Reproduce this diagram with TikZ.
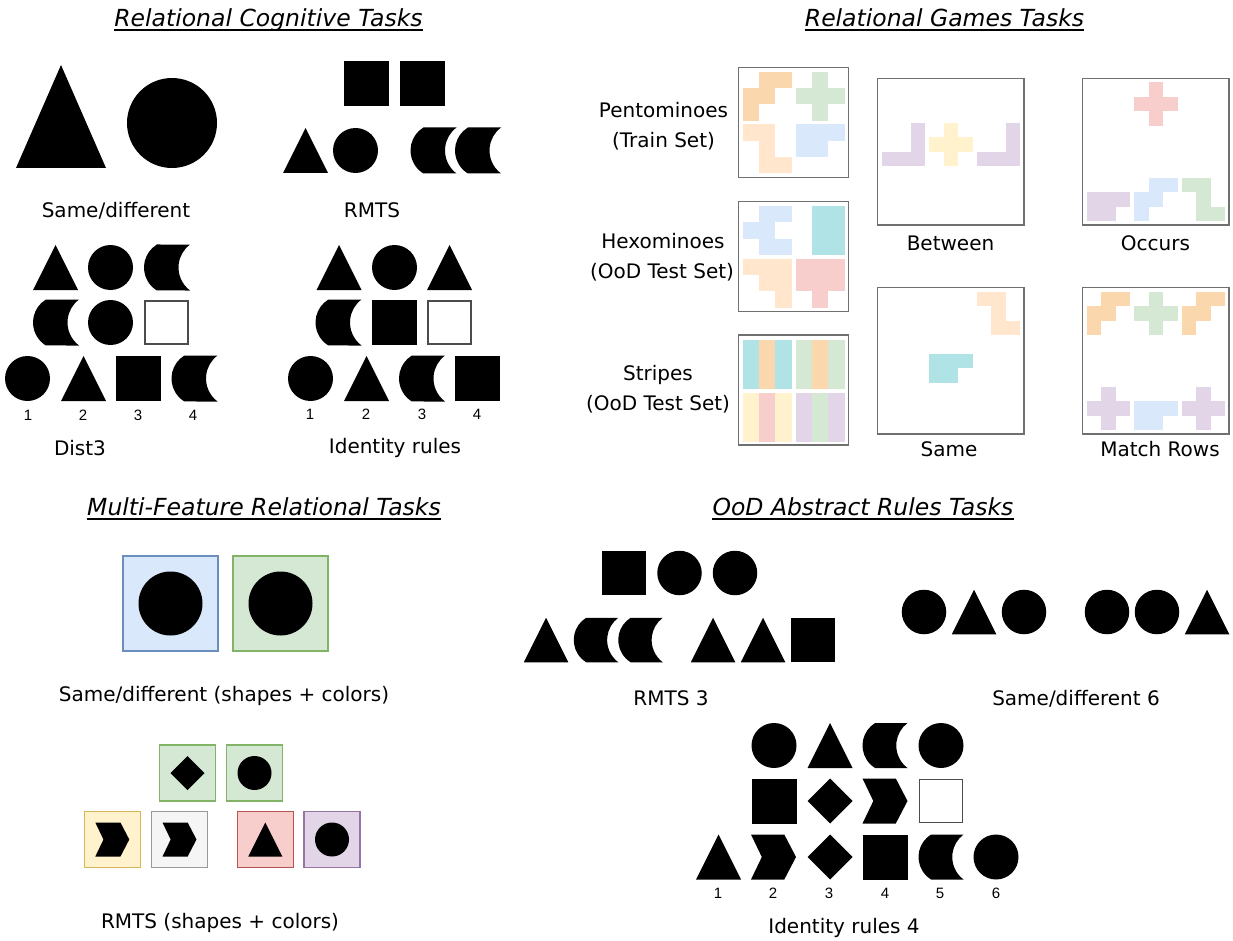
\documentclass[tikz,border=0pt]{standalone}
\usepackage{fontspec}
\setmainfont{DejaVu Sans}
\newfontfamily\numfont{Liberation Sans}
\definecolor{cOrD}{HTML}{FAD7AC}
\definecolor{cOrL}{HTML}{FFE6CC}
\definecolor{cGr}{HTML}{D5E8D4}
\definecolor{cBl}{HTML}{DAE8FC}
\definecolor{cTe}{HTML}{B0E3E6}
\definecolor{cRe}{HTML}{F8CECC}
\definecolor{cYe}{HTML}{FFF2CC}
\definecolor{cPu}{HTML}{E1D5E7}
\definecolor{cGy}{HTML}{F5F5F5}
\definecolor{bGr}{HTML}{82B366}
\definecolor{bBl}{HTML}{6C8EBF}
\definecolor{bYe}{HTML}{D6B656}
\definecolor{bRe}{HTML}{B85450}
\definecolor{bPu}{HTML}{9673A6}
\definecolor{bGy}{HTML}{999999}
\definecolor{frameGray}{HTML}{707070}
\newcommand\shp[4]{\pic[scale=#4] at (#2,#3) {#1};}
\newcommand\pcs[5]{\foreach \rr/\cc in {#5}{\fill[#1] ({#2+\cc*#4},{#3+\rr*#4}) rectangle ++(#4,#4);}}
\def\cellS{16.33}
\def\cellB{14.56}
\newcommand\strp[4]{\fill[#1] ({#2+#4*\cellS},#3) rectangle ++(\cellS,49);}
\begin{document}
\begin{tikzpicture}[x=1pt,y=-1pt,
  lab/.style={font=\fontsize{20}{24}\selectfont, inner sep=0pt, anchor=base},
  ttl/.style={font=\fontsize{23.5}{28}\selectfont\itshape, inner sep=0pt, anchor=base},
  num/.style={font=\numfont\fontsize{15}{17}\selectfont, inner sep=0pt, anchor=base},
  frm/.style={draw=frameGray, line width=1.3pt, fill=white},
  ul/.style={line width=1.3pt},
  tri/.pic={\fill (-0.5,0.5) -- (0.5,0.5) -- (0,-0.5) -- cycle;},
  circ/.pic={\fill (0,0) circle[radius=0.5];},
  sq/.pic={\fill (-0.5,-0.5) rectangle (0.5,0.5);},
  esq/.pic={\draw[draw=black!70, line width=1.3pt, fill=white] (-0.48,-0.48) rectangle (0.48,0.48);},
  dia/.pic={\fill (0,-0.5) -- (0.5,0) -- (0,0.5) -- (-0.5,0) -- cycle;},
  chev/.pic={\fill (-0.5,-0.5) -- (0.24,-0.5) -- (0.5,0) -- (0.24,0.5) -- (-0.5,0.5) -- (-0.26,0) -- cycle;},
  cres/.pic={\fill (-0.22,-0.5) arc[start angle=238.5, end angle=121.5, radius=0.5864] -- (0.5,0.5) arc[start angle=126.87, end angle=233.13, radius=0.625] -- cycle;}
]
\useasboundingbox (0,0) rectangle (1233,941);

% ---------- Titles ----------
\node[ttl] (t1) at (268.5,26.5) {Relational Cognitive Tasks};
\node[ttl] (t2) at (944.5,26.5) {Relational Games Tasks};
\node[ttl] (t3) at (264,515.5) {Multi-Feature Relational Tasks};
\node[ttl] (t4) at (863,515.5) {OoD Abstract Rules Tasks};
\foreach \t in {t1,t2,t3,t4}{\draw[ul] ([yshift=-3.5pt]\t.base west) -- ([yshift=-3.5pt]\t.base east);}

% ---------- Relational cognitive: same/different ----------
\fill (16,168) -- (106,168) -- (61,65) -- cycle;
\fill (172,123) circle[radius=45];
\node[lab] (l1) at (116,218) {Same/different};

% RMTS
\shp{sq}{366.5}{84}{45}
\shp{sq}{422}{84}{45}
\shp{tri}{305.5}{150.5}{45}
\shp{circ}{355.5}{150.5}{45}
\shp{cres}{433.5}{150.5}{46}
\shp{cres}{478}{150.5}{46}
\node[lab] (l2) at (372,218) {RMTS};

% Dist3
\shp{tri}{55.5}{267.5}{45}
\shp{circ}{110.5}{267.5}{45}
\shp{cres}{167}{267.5}{46}
\shp{cres}{56}{322.5}{46}
\shp{circ}{110.5}{322.5}{45}
\shp{esq}{166.5}{322.5}{45}
\shp{circ}{27.5}{378.5}{45}
\shp{tri}{83.5}{378.5}{45}
\shp{sq}{138.5}{378.5}{45}
\shp{cres}{194.5}{378.5}{46}
\node[num] (d1) at (28,420) {1};
\node[num] (d2) at (83,420) {2};
\node[num] (d3) at (138,420) {3};
\node[num] (d4) at (193,420) {4};
\node[lab] (l3) at (80,455) {Dist3};

% Identity rules
\shp{tri}{339}{267.5}{45}
\shp{circ}{394.5}{267.5}{45}
\shp{tri}{449.5}{267.5}{45}
\shp{cres}{338.5}{322.5}{46}
\shp{sq}{394.5}{322.5}{45}
\shp{esq}{449.5}{322.5}{45}
\shp{circ}{310.5}{378.5}{45}
\shp{tri}{366.5}{378.5}{45}
\shp{cres}{422}{378.5}{46}
\shp{sq}{477.5}{378.5}{45}
\node[num] (e1) at (310,419) {1};
\node[num] (e2) at (366,419) {2};
\node[num] (e3) at (422,419) {3};
\node[num] (e4) at (477,419) {4};
\node[lab] (l4) at (395,453) {Identity rules};

% ---------- Relational games ----------
\node[lab] (g1) at (663.5,118) {Pentominoes};
\node[lab] (g2) at (663.5,148) {(Train Set)};
\node[lab] (g3) at (663,249) {Hexominoes};
\node[lab] (g4) at (662,278) {(OoD Test Set)};
\node[lab] (g5) at (658,380) {Stripes};
\node[lab] (g6) at (658,410) {(OoD Test Set)};

% small boxes
\draw[frm] (738.3,67.3) rectangle (848.3,177.3);
\draw[frm] (738.3,201.7) rectangle (848.3,311.7);
\draw[frm] (738.3,335) rectangle (848.3,445);
% box 1 pentominoes
\pcs{cOrD}{742.7}{71.7}{\cellS}{0/1,0/2,1/0,1/1,2/0}
\pcs{cGr}{795.7}{71.7}{\cellS}{0/1,1/0,1/1,1/2,2/1}
\pcs{cOrL}{742.7}{124.3}{\cellS}{0/0,0/1,1/1,2/1,2/2}
\pcs{cBl}{795.7}{124.3}{\cellS}{0/0,0/1,0/2,1/0,1/1}
% box 2 hexominoes
\pcs{cBl}{742.7}{206}{\cellS}{0/1,0/2,1/0,1/1,2/1,2/2}
\pcs{cTe}{795.7}{206}{\cellS}{0/1,0/2,1/1,1/2,2/1,2/2}
\pcs{cOrL}{742.7}{258.7}{\cellS}{0/0,0/1,0/2,1/1,1/2,2/2}
\pcs{cRe}{795.7}{258.7}{\cellS}{0/0,0/1,0/2,1/0,1/1,1/2,2/1}
% box 3 stripes
\strp{cTe}{742.7}{340}{0}\strp{cOrD}{742.7}{340}{1}\strp{cTe}{742.7}{340}{2}
\strp{cGr}{795.7}{340}{0}\strp{cOrD}{795.7}{340}{1}\strp{cGr}{795.7}{340}{2}
\strp{cYe}{742.7}{392.7}{0}\strp{cRe}{742.7}{392.7}{1}\strp{cYe}{742.7}{392.7}{2}
\strp{cPu}{795.7}{392.7}{0}\strp{cGr}{795.7}{392.7}{1}\strp{cPu}{795.7}{392.7}{2}

% big boxes
\draw[frm] (877.3,78.3) rectangle (1024,225);
\draw[frm] (1082.3,78.3) rectangle (1229,225);
\draw[frm] (877.3,287.3) rectangle (1024,434);
\draw[frm] (1082.3,287.3) rectangle (1229,434);
% Between
\pcs{cPu}{881.7}{122.7}{\cellB}{0/2,1/2,2/0,2/1,2/2}
\pcs{cYe}{929}{122.7}{\cellB}{0/1,1/0,1/1,1/2,2/1}
\pcs{cPu}{976.7}{122.7}{\cellB}{0/2,1/2,2/0,2/1,2/2}
% Occurs
\pcs{cRe}{1134}{82.3}{\cellB}{0/1,1/0,1/1,1/2,2/1}
\pcs{cPu}{1086.7}{177.7}{\cellB}{1/0,1/1,1/2,2/0,2/1}
\pcs{cBl}{1134}{177.7}{\cellB}{0/1,0/2,1/0,1/1,2/0}
\pcs{cGr}{1181.7}{177.7}{\cellB}{0/0,0/1,1/1,2/1,2/2}
% Same
\pcs{cOrL}{976.7}{291.7}{\cellB}{0/0,0/1,1/1,2/1,2/2}
\pcs{cTe}{929}{353.7}{\cellB}{0/0,0/1,0/2,1/0,1/1}
% Match rows
\pcs{cOrD}{1086.7}{291.7}{\cellB}{0/1,0/2,1/0,1/1,2/0}
\pcs{cGr}{1134}{291.7}{\cellB}{0/1,1/0,1/1,1/2,2/1}
\pcs{cOrD}{1181.7}{291.7}{\cellB}{0/1,0/2,1/0,1/1,2/0}
\pcs{cPu}{1086.7}{386.7}{\cellB}{0/1,1/0,1/1,1/2,2/1}
\pcs{cBl}{1134}{386.7}{\cellB}{1/0,1/1,1/2,2/0,2/1}
\pcs{cPu}{1181.7}{386.7}{\cellB}{0/1,1/0,1/1,1/2,2/1}

\node[lab] (b1) at (950.5,251) {Between};
\node[lab] (b2) at (1155.5,251) {Occurs};
\node[lab] (b3) at (949,456) {Same};
\node[lab] (b4) at (1160,456) {Match Rows};

% ---------- Multi-feature ----------
\draw[fill=cBl, draw=bBl, line width=1.2pt] (123,556) rectangle (218,651);
\draw[fill=cGr, draw=bGr, line width=1.2pt] (233,556) rectangle (328,651);
\fill (170.5,603.5) circle[radius=32];
\fill (280.5,603.5) circle[radius=32];
\node[lab] (m1) at (224,701) {Same/different (shapes + colors)};

\draw[fill=cGr, draw=bGr, line width=1.2pt] (159.3,745) rectangle (215.7,801);
\draw[fill=cGr, draw=bGr, line width=1.2pt] (226.7,745) rectangle (282.3,801);
\draw[fill=cYe, draw=bYe, line width=1.2pt] (84.3,811.7) rectangle (140.3,867.3);
\draw[fill=cGy, draw=bGy, line width=1.2pt] (151.7,811.7) rectangle (207.3,867.3);
\draw[fill=cRe, draw=bRe, line width=1.2pt] (237.3,811.7) rectangle (293.3,867.3);
\draw[fill=cPu, draw=bPu, line width=1.2pt] (304,811.7) rectangle (360,867.3);
\shp{dia}{187.5}{773}{34}
\shp{circ}{254.5}{773}{34}
\shp{chev}{112.3}{839.5}{34}
\shp{chev}{179.5}{839.5}{34}
\shp{tri}{265.3}{839.5}{34}
\shp{circ}{332}{839.5}{34}
\node[lab] (m2) at (220,928) {RMTS (shapes + colors)};

% ---------- OoD abstract rules ----------
\shp{sq}{624}{573}{44.5}
\shp{circ}{679.5}{573}{44.5}
\shp{circ}{735}{573}{44.5}
\shp{tri}{546}{640}{44.5}
\shp{cres}{596}{640}{44.5}
\shp{cres}{640.5}{640}{44.5}
\shp{tri}{713}{640}{44.5}
\shp{tri}{763}{640}{44.5}
\shp{sq}{813}{640}{44.5}
\node[lab] (o1) at (671,705) {RMTS 3};

\shp{circ}{924}{612}{44.5}
\shp{tri}{974}{612}{44.5}
\shp{circ}{1024}{612}{44.5}
\shp{circ}{1107}{612}{44.5}
\shp{circ}{1157}{612}{44.5}
\shp{tri}{1207}{612}{44.5}
\node[lab] (o2) at (1076,705) {Same/different 6};

\shp{circ}{774}{745.5}{45}
\shp{tri}{830}{745.5}{45}
\shp{cres}{885}{745.5}{45}
\shp{circ}{941}{745.5}{45}
\shp{sq}{774}{801}{45}
\shp{dia}{830}{801}{45}
\shp{chev}{885}{801}{45}
\shp{esq}{941}{801}{45}
\shp{tri}{718.5}{857}{45}
\shp{chev}{773.5}{857}{45}
\shp{dia}{830}{857}{45}
\shp{sq}{885}{857}{45}
\shp{cres}{941}{857}{45}
\shp{circ}{996}{857}{45}
\node[num] (f1) at (718,898) {1};
\node[num] (f2) at (773,898) {2};
\node[num] (f3) at (829,898) {3};
\node[num] (f4) at (885,898) {4};
\node[num] (f5) at (940,898) {5};
\node[num] (f6) at (996,898) {6};
\node[lab] (o3) at (844,933) {Identity rules 4};
\end{tikzpicture}
\end{document}
